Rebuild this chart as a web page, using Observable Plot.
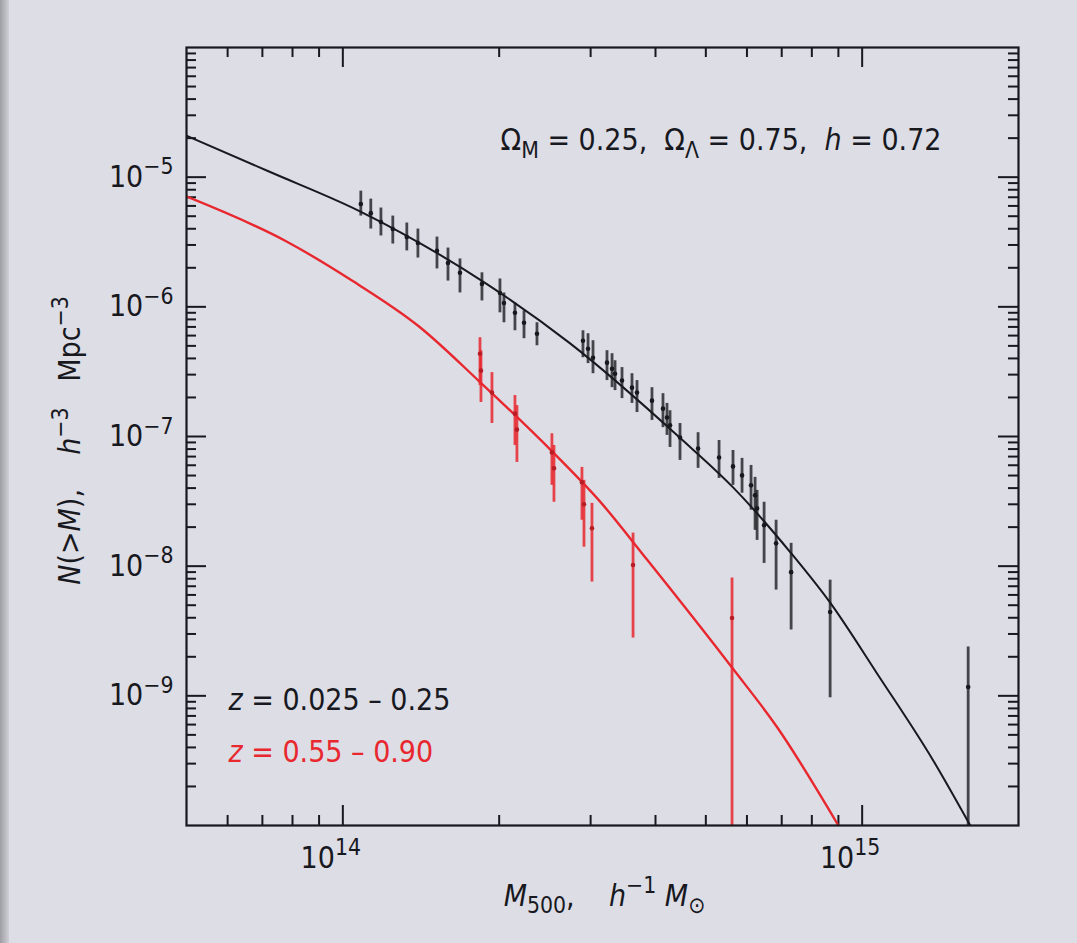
<!DOCTYPE html>
<html>
<head>
<meta charset="utf-8">
<script src="https://cdn.jsdelivr.net/npm/d3@7"></script>
<script src="https://cdn.jsdelivr.net/npm/@observablehq/plot@0.6"></script>
<style>
  html, body { margin: 0; padding: 0; background: #dddde5; overflow: hidden; }
  #chart { position: absolute; left: 0; top: 0; }
  #edge { position: absolute; left: 0; top: 0; width: 9px; height: 943px;
          background: linear-gradient(to right, #9d9da3, #cfcfd6); }
  svg text { white-space: pre; }
</style>
</head>
<body>
<div id="chart"></div>
<div id="edge"></div>
<script>
// ---------------- data ----------------
// low-redshift sample z = 0.025 - 0.25 (black)
const blackMass = [1.083e14, 1.132e14, 1.184e14, 1.248e14, 1.328e14, 1.395e14, 1.518e14, 1.594e14, 1.681e14, 1.853e14,
                   2.007e14, 2.043e14, 2.145e14, 2.233e14, 2.365e14, 2.900e14, 2.966e14, 3.032e14, 3.226e14, 3.299e14,
                   3.343e14, 3.448e14, 3.604e14, 3.685e14, 3.938e14, 4.135e14, 4.209e14, 4.266e14, 4.459e14, 4.831e14,
                   5.302e14, 5.640e14, 5.871e14, 6.110e14, 6.220e14, 6.276e14, 6.474e14, 6.828e14, 7.298e14, 8.676e14,
                   1.600e15];
const blackN    = [6.20e-6, 5.28e-6, 4.51e-6, 3.98e-6, 3.45e-6, 3.11e-6, 2.70e-6, 2.18e-6, 1.83e-6, 1.50e-6,
                   1.28e-6, 1.07e-6, 8.99e-7, 7.54e-7, 6.20e-7, 5.48e-7, 4.75e-7, 4.05e-7, 3.71e-7, 3.33e-7,
                   3.05e-7, 2.70e-7, 2.38e-7, 2.18e-7, 1.89e-7, 1.64e-7, 1.40e-7, 1.22e-7, 9.83e-8, 8.09e-8,
                   6.89e-8, 5.88e-8, 5.01e-8, 4.20e-8, 3.52e-8, 2.79e-8, 2.07e-8, 1.50e-8, 8.99e-9, 4.43e-9,
                   1.17e-9];
const blackNHi  = [7.80e-6, 6.77e-6, 5.78e-6, 5.01e-6, 4.43e-6, 3.98e-6, 3.45e-6, 2.84e-6, 2.34e-6, 1.83e-6,
                   1.64e-6, 1.28e-6, 1.07e-6, 9.31e-7, 7.54e-7, 6.54e-7, 6.20e-7, 5.48e-7, 4.59e-7, 4.35e-7,
                   3.84e-7, 3.40e-7, 3.05e-7, 2.70e-7, 2.38e-7, 2.14e-7, 1.80e-7, 1.58e-7, 1.26e-7, 1.07e-7,
                   9.31e-8, 7.80e-8, 6.78e-8, 5.98e-8, 4.84e-8, 3.84e-8, 3.11e-8, 2.26e-8, 1.50e-8, 7.80e-9,
                   2.38e-9];
const blackNLo  = [5.01e-6, 3.98e-6, 3.52e-6, 3.05e-6, 2.70e-6, 2.38e-6, 1.96e-6, 1.58e-6, 1.28e-6, 1.11e-6,
                   8.99e-7, 7.54e-7, 6.54e-7, 5.68e-7, 5.01e-7, 4.05e-7, 3.65e-7, 3.05e-7, 2.70e-7, 2.38e-7,
                   2.26e-7, 1.96e-7, 1.80e-7, 1.53e-7, 1.33e-7, 1.17e-7, 1.02e-7, 8.23e-8, 6.54e-8, 5.68e-8,
                   4.75e-8, 4.20e-8, 3.65e-8, 2.70e-8, 1.89e-8, 1.58e-8, 1.05e-8, 6.54e-9, 3.22e-9, 9.66e-10,
                   1.0e-11];

// high-redshift sample z = 0.55 - 0.90 (red)
const redMass = [1.837e14, 1.845e14, 1.937e14, 2.145e14, 2.164e14, 2.527e14, 2.550e14, 2.887e14, 2.913e14, 3.018e14,
                 3.621e14, 5.616e14];
const redN    = [4.35e-7, 3.22e-7, 2.18e-7, 1.50e-7, 1.13e-7, 7.54e-8, 5.68e-8, 4.43e-8, 3.00e-8, 1.96e-8,
                 1.02e-8, 3.98e-9];
const redNHi  = [5.78e-7, 4.59e-7, 3.11e-7, 2.07e-7, 1.73e-7, 1.05e-7, 8.53e-8, 5.78e-8, 4.59e-8, 3.05e-8,
                 1.80e-8, 8.09e-9];
const redNLo  = [2.47e-7, 1.83e-7, 1.26e-7, 8.53e-8, 6.31e-8, 4.20e-8, 3.11e-8, 2.26e-8, 1.40e-8, 7.54e-9,
                 2.79e-9, 1.0e-11];

// model curves
const modelLowMass  = [5.0e13, 7.19e13, 1.074e14, 1.888e14, 2.735e14, 4.457e14, 5.636e14, 7.261e14, 8.670e14,
                       1.069e15, 1.371e15, 1.615e15];
const modelLowN     = [2.09e-5, 1.11e-5, 5.50e-6, 1.51e-6, 5.25e-7, 9.77e-8, 4.07e-8, 1.29e-8, 5.25e-9,
                       1.48e-9, 3.16e-10, 1.0e-10];
const modelHighMass = [4.98e13, 7.76e13, 1.045e14, 1.40e14, 1.837e14, 2.54e14, 3.126e14, 3.855e14, 5.61e14,
                       6.855e14, 9.0e14];
const modelHighN    = [7.14e-6, 3.22e-6, 1.58e-6, 7.08e-7, 2.63e-7, 7.54e-8, 3.16e-8, 1.12e-8, 1.66e-9,
                       5.75e-10, 1.0e-10];

// axes
const xMajorTicks = [1e14, 1e15];
const xTickLabels = ["10^{14}", "10^{15}"];
const xMinorTicks = [6e13, 7e13, 8e13, 9e13, 2e14, 3e14, 4e14, 5e14, 6e14, 7e14, 8e14, 9e14];
const yMajorTicks = [1e-5, 1e-6, 1e-7, 1e-8, 1e-9];
const yTickLabels = ["10^{−5}", "10^{−6}", "10^{−7}", "10^{−8}", "10^{−9}"];
const yMinorTicks = [
  2e-10, 3e-10, 4e-10, 5e-10, 6e-10, 7e-10, 8e-10, 9e-10,
  2e-9, 3e-9, 4e-9, 5e-9, 6e-9, 7e-9, 8e-9, 9e-9,
  2e-8, 3e-8, 4e-8, 5e-8, 6e-8, 7e-8, 8e-8, 9e-8,
  2e-7, 3e-7, 4e-7, 5e-7, 6e-7, 7e-7, 8e-7, 9e-7,
  2e-6, 3e-6, 4e-6, 5e-6, 6e-6, 7e-6, 8e-6, 9e-6,
  2e-5, 3e-5, 4e-5, 5e-5, 6e-5, 7e-5, 8e-5, 9e-5];

// texts
const xTitle = "*M*_{500},    *h*^{−1} *M*_{⊙}";
const yTitle = "*N*(>*M*),    *h*^{−3}   Mpc^{−3}";
const cosmoLabel = "Ω_{M} = 0.25,  Ω_{Λ} = 0.75,  *h* = 0.72";
const legendLow = "*z* = 0.025 – 0.25";
const legendHigh = "*z* = 0.55 – 0.90";

// ---------------- chart ----------------
const W = 1077, H = 943;
const mL = 186, mR = 59, mT = 47, mB = 118;
const innerW = W - mL - mR, innerH = H - mT - mB;
const MAJ = 20, MIN = 10;
const ink = "#18181f";
const red = "#e8272f";
const FONT = '"DejaVu Sans Condensed", "DejaVu Sans", "Liberation Sans Narrow", sans-serif';

const black = blackMass.map((m, i) => ({m, n: blackN[i], hi: blackNHi[i], lo: blackNLo[i]}));
const redPts = redMass.map((m, i) => ({m, n: redN[i], hi: redNHi[i], lo: redNLo[i]}));
const lowModel = modelLowMass.map((m, i) => ({m, n: modelLowN[i]}));
const highModel = modelHighMass.map((m, i) => ({m, n: modelHighN[i]}));

const tickStyle = {stroke: ink, strokeWidth: 2};

const svg = Plot.plot({
  width: W, height: H,
  marginLeft: mL, marginRight: mR, marginTop: mT, marginBottom: mB,
  style: {background: "transparent", fontFamily: FONT, fontStretch: "condensed", color: ink, overflow: "visible"},
  x: {type: "log", domain: [5e13, 2e15], axis: null},
  y: {type: "log", domain: [1e-10, 1e-4], axis: null},
  marks: [
    // inward ticks on all four sides
    Plot.tickX(xMajorTicks, {x: d => d, insetTop: innerH - MAJ, ...tickStyle}),
    Plot.tickX(xMajorTicks, {x: d => d, insetBottom: innerH - MAJ, ...tickStyle}),
    Plot.tickX(xMinorTicks, {x: d => d, insetTop: innerH - MIN, ...tickStyle}),
    Plot.tickX(xMinorTicks, {x: d => d, insetBottom: innerH - MIN, ...tickStyle}),
    Plot.tickY(yMajorTicks, {y: d => d, insetRight: innerW - MAJ, ...tickStyle}),
    Plot.tickY(yMajorTicks, {y: d => d, insetLeft: innerW - MAJ, ...tickStyle}),
    Plot.tickY(yMinorTicks, {y: d => d, insetRight: innerW - MIN, ...tickStyle}),
    Plot.tickY(yMinorTicks, {y: d => d, insetLeft: innerW - MIN, ...tickStyle}),

    // model curves
    Plot.line(lowModel, {x: "m", y: "n", stroke: ink, strokeWidth: 2, curve: "monotone-x", clip: true}),
    Plot.line(highModel, {x: "m", y: "n", stroke: red, strokeWidth: 2.4, curve: "monotone-x", clip: true}),

    // data with error bars
    Plot.ruleX(black, {x: "m", y1: "lo", y2: "hi", stroke: ink, strokeWidth: 2.8, strokeOpacity: 0.78, clip: true}),
    Plot.dot(black, {x: "m", y: "n", r: 2.3, fill: ink, stroke: "none"}),
    Plot.ruleX(redPts, {x: "m", y1: "lo", y2: "hi", stroke: red, strokeWidth: 2.8, strokeOpacity: 0.85, clip: true}),
    Plot.dot(redPts, {x: "m", y: "n", r: 2.3, fill: "#b81c24", stroke: "none"}),

    Plot.frame({stroke: ink, strokeWidth: 2.2}),

    // tick labels
    Plot.text(yMajorTicks, {y: d => d, text: (d, i) => yTickLabels[i], frameAnchor: "left", dx: -13,
                            textAnchor: "end", fontSize: 30, fill: ink}),
    Plot.text(xMajorTicks, {x: d => d, text: (d, i) => xTickLabels[i], frameAnchor: "bottom", dx: -12, dy: 42,
                            textAnchor: "middle", fontSize: 30, fill: ink}),

    // axis titles
    Plot.text([xTitle], {text: d => d, frameAnchor: "bottom", dx: 2, dy: 80, textAnchor: "middle",
                         fontSize: 30, fill: ink}),
    Plot.text([yTitle], {text: d => d, frameAnchor: "left", dx: -116, dy: 4, rotate: -90, textAnchor: "middle",
                         fontSize: 30, fill: ink}),

    // annotations
    Plot.text([cosmoLabel], {text: d => d, frameAnchor: "top-left", dx: 314, dy: 81, textAnchor: "start",
                             fontSize: 30, fill: ink}),
    Plot.text([legendLow], {text: d => d, frameAnchor: "bottom-left", dx: 42, dy: -116, textAnchor: "start",
                            fontSize: 30, fill: ink}),
    Plot.text([legendHigh], {text: d => d, frameAnchor: "bottom-left", dx: 42, dy: -64, textAnchor: "start",
                             fontSize: 30, fill: red})
  ]
});

document.getElementById("chart").appendChild(svg);

// turn ^{..} / _{..} / *..* markup into super/subscript and italic tspans
function richify(root) {
  const NS = "http://www.w3.org/2000/svg";
  root.querySelectorAll("text").forEach(el => {
    let t = el;
    while (t.children.length === 1 && t.firstElementChild.tagName.toLowerCase() === "tspan") t = t.firstElementChild;
    const src = t.textContent;
    if (!/[\^_*]/.test(src)) return;
    const base = parseFloat(getComputedStyle(t).fontSize) || 30;
    t.textContent = "";
    const parts = src.split(/(\^\{[^}]*\}|_\{[^}]*\}|\*[^*]+\*)/);
    let shift = 0;
    for (const p of parts) {
      if (!p) continue;
      let txt = p, level = 0, italic = false;
      if (p.startsWith("^{")) { txt = p.slice(2, -1); level = -0.42; }
      else if (p.startsWith("_{")) { txt = p.slice(2, -1); level = 0.26; }
      else if (p.length > 2 && p.startsWith("*") && p.endsWith("*")) { txt = p.slice(1, -1); italic = true; }
      const ts = document.createElementNS(NS, "tspan");
      ts.textContent = txt;
      const d = (level - shift) * base;
      if (d) ts.setAttribute("dy", d.toFixed(2));
      shift = level;
      if (level) ts.setAttribute("font-size", (base * 0.76).toFixed(1));
      if (italic) ts.setAttribute("font-style", "italic");
      t.appendChild(ts);
    }
  });
}
richify(svg);
</script>
</body>
</html>
